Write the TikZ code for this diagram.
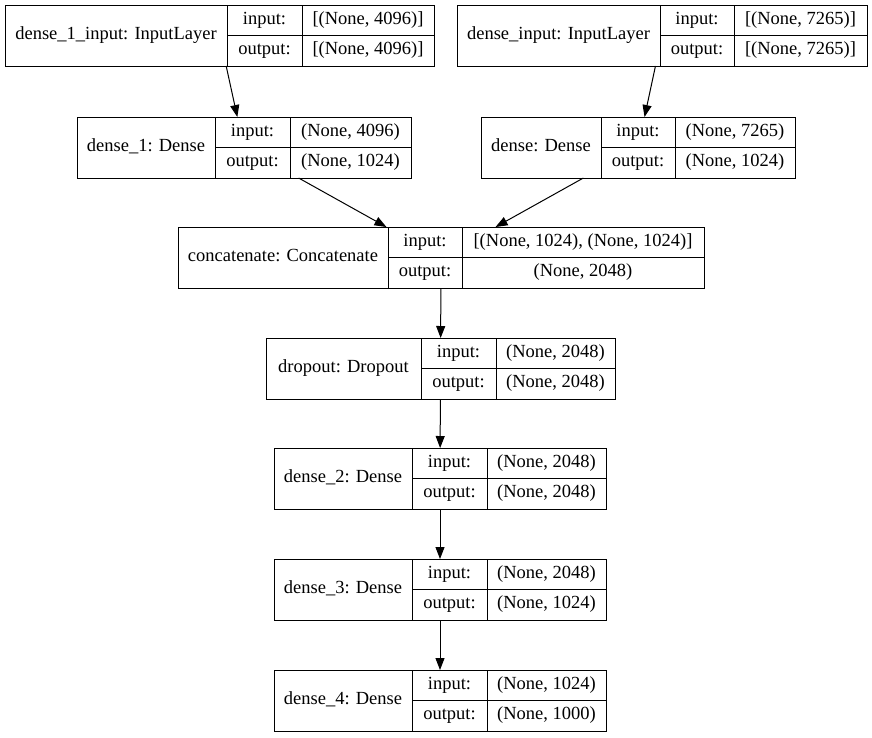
\documentclass[tikz,border=0pt]{standalone}
\usepackage{fontspec}
\setmainfont{Liberation Serif}
\usetikzlibrary{arrows.meta}
\tikzset{
 box/.style={draw=black, line width=1pt, inner sep=0pt, outer sep=0pt, rectangle},
 txt/.style={inner sep=0pt, text height=0.69em, text depth=0.2em, font=\fontsize{18.5}{22}\selectfont},
 conn/.style={draw=black, line width=1pt, -{Triangle[length=12pt,width=9pt]}},
 sepline/.style={draw=black, line width=1pt}
}
% #1 name, #2 x1, #3 d1, #4 d2, #5 x2, #6 ytop, #7 label, #8 input, #9 output
\newcommand\klayer[9]{%
 \node[box, minimum width={(#5-#2)*1pt}, minimum height=61pt, anchor=north west] (#1) at (#2,#6) {};
 \draw[sepline] (#3,#6) -- (#3,{#6+61});
 \draw[sepline] (#4,#6) -- (#4,{#6+61});
 \draw[sepline] (#3,{#6+30.5}) -- (#5,{#6+30.5});
 \node[txt] (#1-lab) at ({(#2+#3)/2},{#6+32}) {#7};
 \node[txt] (#1-in) at ({(#3+#4)/2},{#6+17}) {input:};
 \node[txt] (#1-out) at ({(#3+#4)/2},{#6+47.5}) {output:};
 \node[txt] (#1-inv) at ({(#4+#5)/2},{#6+17}) {#8};
 \node[txt] (#1-outv) at ({(#4+#5)/2},{#6+47.5}) {#9};
}
\begin{document}
\begin{tikzpicture}[x=1pt,y=-1pt]
\useasboundingbox[fill=white] (0,0) rectangle (872,737);
\klayer{d1in}{5}{227}{302}{434}{5}{dense\_1\_input: InputLayer}{[(None, 4096)]}{[(None, 4096)]}
\klayer{dinp}{457}{660}{734}{867}{5}{dense\_input: InputLayer}{[(None, 7265)]}{[(None, 7265)]}
\klayer{d1}{77}{215}{290}{411}{117}{dense\_1: Dense}{(None, 4096)}{(None, 1024)}
\klayer{d}{481}{601}{675}{795}{117}{dense: Dense}{(None, 7265)}{(None, 1024)}
\klayer{cat}{178}{388}{462}{704}{227}{concatenate: Concatenate}{[(None, 1024), (None, 1024)]}{(None, 2048)}
\klayer{drop}{266}{421}{496}{615}{338}{dropout: Dropout}{(None, 2048)}{(None, 2048)}
\klayer{d2}{274}{412}{487}{606}{448}{dense\_2: Dense}{(None, 2048)}{(None, 2048)}
\klayer{d3}{274}{412}{487}{606}{559}{dense\_3: Dense}{(None, 2048)}{(None, 1024)}
\klayer{d4}{274}{412}{487}{606}{670}{dense\_4: Dense}{(None, 1024)}{(None, 1000)}
\draw[conn] (d1in) -- (d1);
\draw[conn] (dinp) -- (d);
\draw[conn] (d1) -- (cat);
\draw[conn] (d) -- (cat);
\draw[conn] (cat) -- (drop);
\draw[conn] (drop) -- (d2);
\draw[conn] (d2) -- (d3);
\draw[conn] (d3) -- (d4);
\end{tikzpicture}
\end{document}
